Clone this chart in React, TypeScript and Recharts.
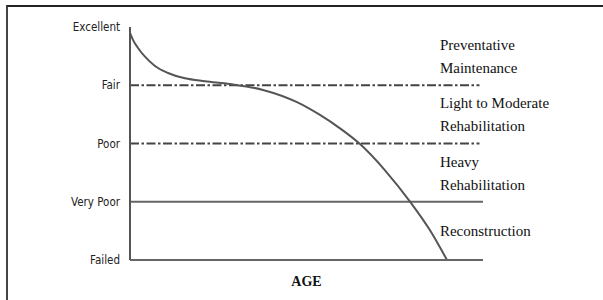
import React from 'react';
import {
  ComposedChart,
  Line,
  XAxis,
  YAxis,
  ReferenceLine,
  ReferenceDot,
} from 'recharts';

// condition scale: 0 = Failed ... 4 = Excellent
const conditionTicks = ['Failed', 'Very Poor', 'Poor', 'Fair', 'Excellent'];

// deterioration curve
const curveAge = [0, 0.85, 2.27, 4.25, 7.08, 10.76, 15.58, 21.25, 28.33, 37.68, 47.31, 53.82, 59.49, 65.16, 72.24, 79.6, 84.99, 89.8];
const curveCondition = [3.9, 3.78, 3.64, 3.49, 3.33, 3.21, 3.12, 3.07, 3.02, 2.92, 2.71, 2.49, 2.26, 1.99, 1.54, 0.98, 0.51, 0];

const zoneLines = [
  ['Preventative', 'Maintenance'],
  ['Light to Moderate', 'Rehabilitation'],
  ['Heavy', 'Rehabilitation'],
  ['Reconstruction'],
];
const zoneMid = [3.5, 2.5, 1.5, 0.5];
const zoneAge = 87.8;

const curveData = curveAge.map((age, i) => ({ age, cond: curveCondition[i] }));

const serif = "'Liberation Serif', 'Times New Roman', serif";
const narrow = "'Liberation Sans Narrow', 'DejaVu Sans Condensed', sans-serif";

const ZoneText = ({ viewBox, lines }: any) => {
  const x = viewBox.x;
  const y = viewBox.y;
  const offsets = lines.length === 1 ? [5] : [-6, 17];
  return (
    <text x={x} fontFamily={serif} fontSize={15} fill="#111">
      {lines.map((l: string, i: number) => (
        <tspan key={l + i} x={x} y={y + offsets[i]}>
          {l}
        </tspan>
      ))}
    </text>
  );
};

const App = () => {
  return (
    <div style={{ position: 'absolute', left: 0, top: 0, width: 603, height: 300, background: '#fff' }}>
      <div
        style={{
          position: 'absolute',
          left: 6,
          top: 5,
          width: 600,
          height: 293,
          borderTop: '2px solid #222',
          borderLeft: '2px solid #444',
          borderBottom: '1px solid #ddd',
        }}
      />
      <div style={{ position: 'absolute', left: 0, top: 0 }}>
        <ComposedChart width={603} height={300} data={curveData} margin={{ top: 27, right: 120, bottom: 10, left: 30 }}>
          <XAxis
            type="number"
            dataKey="age"
            domain={[0, 100]}
            ticks={[]}
            tick={false}
            tickLine={false}
            height={30}
            axisLine={{ stroke: '#666', strokeWidth: 2 }}
            label={{ value: 'AGE', position: 'insideBottom', offset: 4, fontFamily: serif, fontWeight: 'bold', fontSize: 14, fill: '#111' }}
          />
          <YAxis
            type="number"
            domain={[0, 4]}
            ticks={[0, 1, 2, 3, 4]}
            tickFormatter={(v: number) => conditionTicks[v]}
            width={100}
            tickLine={false}
            tickMargin={4}
            axisLine={{ stroke: '#555', strokeWidth: 2 }}
            tick={{ fontFamily: narrow, fontSize: 11.5, fill: '#222' }}
          />
          <ReferenceLine segment={[{ x: 0, y: 3 }, { x: 99, y: 3 }]} stroke="#444" strokeWidth={2} strokeDasharray="9 2.5 2.5 2.5" />
          <ReferenceLine segment={[{ x: 0, y: 2 }, { x: 99, y: 2 }]} stroke="#444" strokeWidth={2} strokeDasharray="9 2.5 2.5 2.5" />
          <ReferenceLine segment={[{ x: 0, y: 1 }, { x: 100, y: 1 }]} stroke="#666" strokeWidth={2} />
          <Line
            type="monotone"
            dataKey="cond"
            stroke="#555"
            strokeWidth={2}
            dot={false}
            activeDot={false}
            isAnimationActive={false}
          />
          {zoneMid.map((m, i) => (
            <ReferenceDot
              key={i}
              x={zoneAge}
              y={m}
              r={0}
              fill="none"
              stroke="none"
              label={(props: any) => <ZoneText {...props} lines={zoneLines[i]} />}
            />
          ))}
        </ComposedChart>
      </div>
    </div>
  );
};

export default App;
